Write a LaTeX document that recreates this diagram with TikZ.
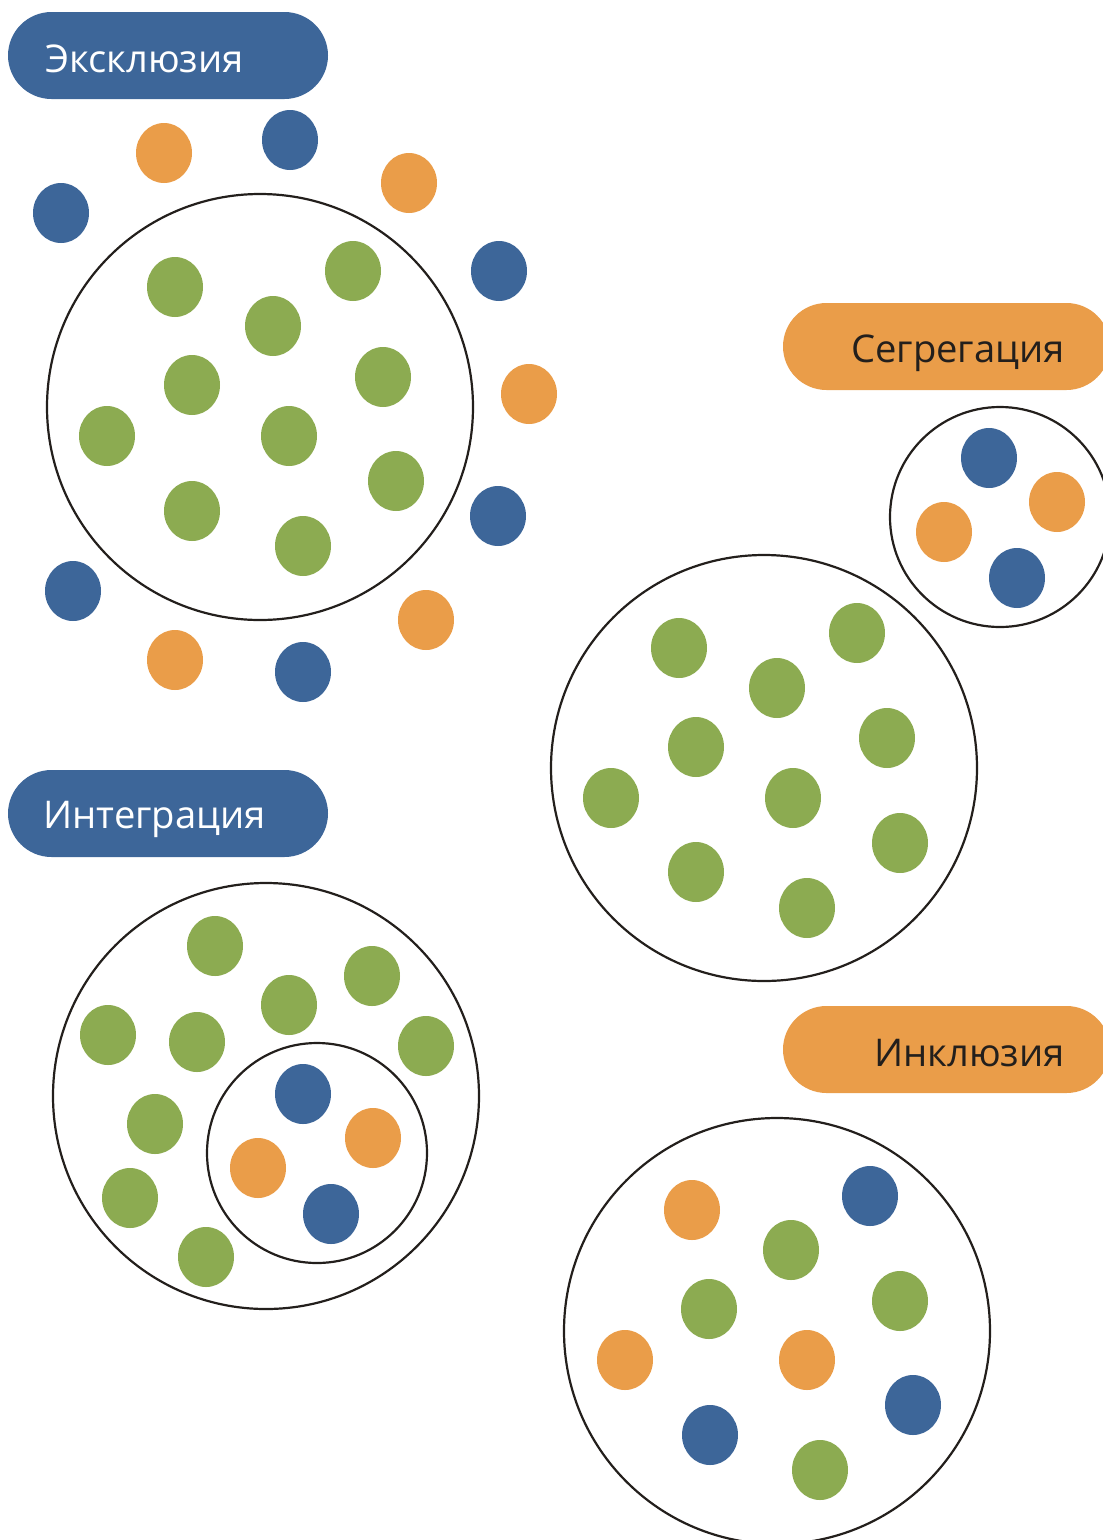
\documentclass[tikz,border=0pt]{standalone}
\usepackage{fontspec}
\setmainfont{Open Sans}
\definecolor{xblue}{HTML}{3D6699}
\definecolor{xorange}{HTML}{EA9D49}
\definecolor{xgreen}{HTML}{8CAB51}
\definecolor{xline}{HTML}{231F1C}
\tikzset{
  tag/.style={font=\fontsize{38.2}{46}\selectfont,inner sep=0pt},
  pill/.style={rounded corners=43.5pt},
  dot/.style={x radius=28pt,y radius=30pt},
  ring/.style={draw=xline,line width=2.2pt}
}
\begin{document}
\begin{tikzpicture}[x=1pt,y=-1pt,line cap=round,line join=round]
\useasboundingbox (0,0) rectangle (1103,1540);
% labels
\fill[xblue,pill] (8,12) rectangle (328,99);
\fill[xorange,pill] (783,303) rectangle (1110,390);
\fill[xblue,pill] (8,770) rectangle (328,857);
\fill[xorange,pill] (783,1006) rectangle (1110,1093);
\node[tag,text=white,anchor=base west] (exclusion) at (45,72) {Эксклюзия};
\node[tag,text=xline,anchor=base east] (segregation) at (1065,362) {Сегрегация};
\node[tag,text=white,anchor=base west] (integration) at (43,828) {Интеграция};
\node[tag,text=xline,anchor=base east] (inclusion) at (1065,1066) {Инклюзия};

% exclusion
\draw[ring] (260,407) circle [radius=213pt];
\fill[xgreen]
(175,287) ellipse [dot] (353,271) ellipse [dot] (273,326) ellipse [dot]
(192,385) ellipse [dot] (383,377) ellipse [dot] (107,436) ellipse [dot]
(289,436) ellipse [dot] (396,481) ellipse [dot] (192,511) ellipse [dot]
(303,546) ellipse [dot];
\fill[xblue]
(61,213) ellipse [dot] (290,140) ellipse [dot] (499,271) ellipse [dot]
(498,516) ellipse [dot] (303,672) ellipse [dot] (73,591) ellipse [dot];
\fill[xorange]
(164,153) ellipse [dot] (409,183) ellipse [dot] (529,394) ellipse [dot]
(426,620) ellipse [dot] (175,660) ellipse [dot];

% segregation
\draw[ring] (1000,517) circle [radius=110pt];
\draw[ring] (764,768) circle [radius=213pt];
\fill[xblue] (989,458) ellipse [dot] (1017,578) ellipse [dot];
\fill[xorange] (1057,502) ellipse [dot] (944,532) ellipse [dot];
\fill[xgreen]
(679,648) ellipse [dot] (857,633) ellipse [dot] (777,688) ellipse [dot]
(696,747) ellipse [dot] (887,738) ellipse [dot] (611,798) ellipse [dot]
(793,798) ellipse [dot] (900,843) ellipse [dot] (696,872) ellipse [dot]
(807,908) ellipse [dot];

% integration
\draw[ring] (266,1096) circle [radius=213pt];
\draw[ring] (317,1153) circle [radius=110pt];
\fill[xgreen]
(215,946) ellipse [dot] (372,976) ellipse [dot] (108,1035) ellipse [dot]
(289,1005) ellipse [dot] (197,1042) ellipse [dot] (426,1046) ellipse [dot]
(155,1124) ellipse [dot] (130,1198) ellipse [dot] (206,1257) ellipse [dot];
\fill[xblue] (303,1094) ellipse [dot] (331,1214) ellipse [dot];
\fill[xorange] (373,1138) ellipse [dot] (258,1168) ellipse [dot];

% inclusion
\draw[ring] (777,1331) circle [radius=213pt];
\fill[xorange] (692,1210) ellipse [dot] (625,1360) ellipse [dot] (807,1360) ellipse [dot];
\fill[xblue] (870,1196) ellipse [dot] (913,1405) ellipse [dot] (710,1435) ellipse [dot];
\fill[xgreen]
(791,1250) ellipse [dot] (709,1309) ellipse [dot] (900,1301) ellipse [dot]
(820,1470) ellipse [dot];
\end{tikzpicture}
\end{document}
